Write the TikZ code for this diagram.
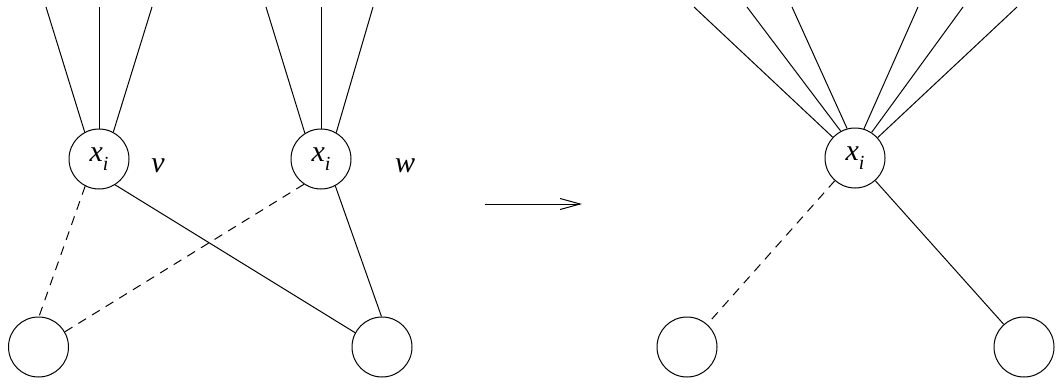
\documentclass[tikz,border=0pt]{standalone}
\usepackage{fontspec}
\setmainfont{Liberation Serif}
\usetikzlibrary{arrows.meta}
\newcommand{\xsubi}{\itshape x\raisebox{-9pt}{\fontsize{20}{20}\selectfont\itshape i}}
\tikzset{
  vert/.style={circle,draw,line width=1pt,minimum size=60pt,inner sep=0pt,font=\fontsize{30}{32}\selectfont},
  lab/.style={font=\fontsize{30}{32}\selectfont\itshape,inner sep=0pt},
  edge/.style={line width=1pt},
  dedge/.style={line width=1pt,dash pattern=on 9pt off 7pt}
}
\begin{document}
\begin{tikzpicture}[x=1pt,y=-1pt]
\useasboundingbox (0,0) rectangle (1056,383);
% left part
\node[vert] (v) at (99,159) {\xsubi};
\node[vert] (w) at (321,159) {\xsubi};
\node[vert] (a) at (38.5,347) {};
\node[vert] (b) at (382,347) {};
\node[lab] (lv) at (158,166) {v};
\node[lab] (lw) at (405,166) {w};
\coordinate (v1) at (46,7);
\coordinate (v2) at (99,7);
\coordinate (v3) at (152,7);
\coordinate (w1) at (266,7);
\coordinate (w2) at (321,7);
\coordinate (w3) at (373,7);
\draw[edge] (v1) -- (v.118);
\draw[edge] (v2) -- (v.90);
\draw[edge] (v3) -- (v.62);
\draw[edge] (w1) -- (w.122);
\draw[edge] (w2) -- (w.90);
\draw[edge] (w3) -- (w.60);
\draw[dedge] (v.-117) -- (a.89);
\draw[edge] (v.-58) -- (b.152);
\draw[dedge] (w.-124) -- (a.30);
\draw[edge] (w.-62) -- (b.91);
% arrow
\coordinate (p1) at (485,204);
\coordinate (p2) at (582,204);
\draw[line width=1pt,-{Straight Barb[length=20pt,width=11pt,line width=1pt]}] (p1) -- (p2);
% right part
\node[vert] (c) at (855,158) {\xsubi};
\node[vert] (d) at (687,347) {};
\node[vert] (e) at (1024,347) {};
\coordinate (c1) at (694,7);
\coordinate (c2) at (747,7);
\coordinate (c3) at (792,7);
\coordinate (c4) at (918,7);
\coordinate (c5) at (963,7);
\coordinate (c6) at (1017,7);
\draw[edge] (c1) -- (c.137);
\draw[edge] (c2) -- (c.118);
\draw[edge] (c3) -- (c.105);
\draw[edge] (c4) -- (c.73);
\draw[edge] (c5) -- (c.57);
\draw[edge] (c6) -- (c.42);
\draw[dedge] (c) -- (d);
\draw[edge] (c) -- (e);
\end{tikzpicture}
\end{document}
